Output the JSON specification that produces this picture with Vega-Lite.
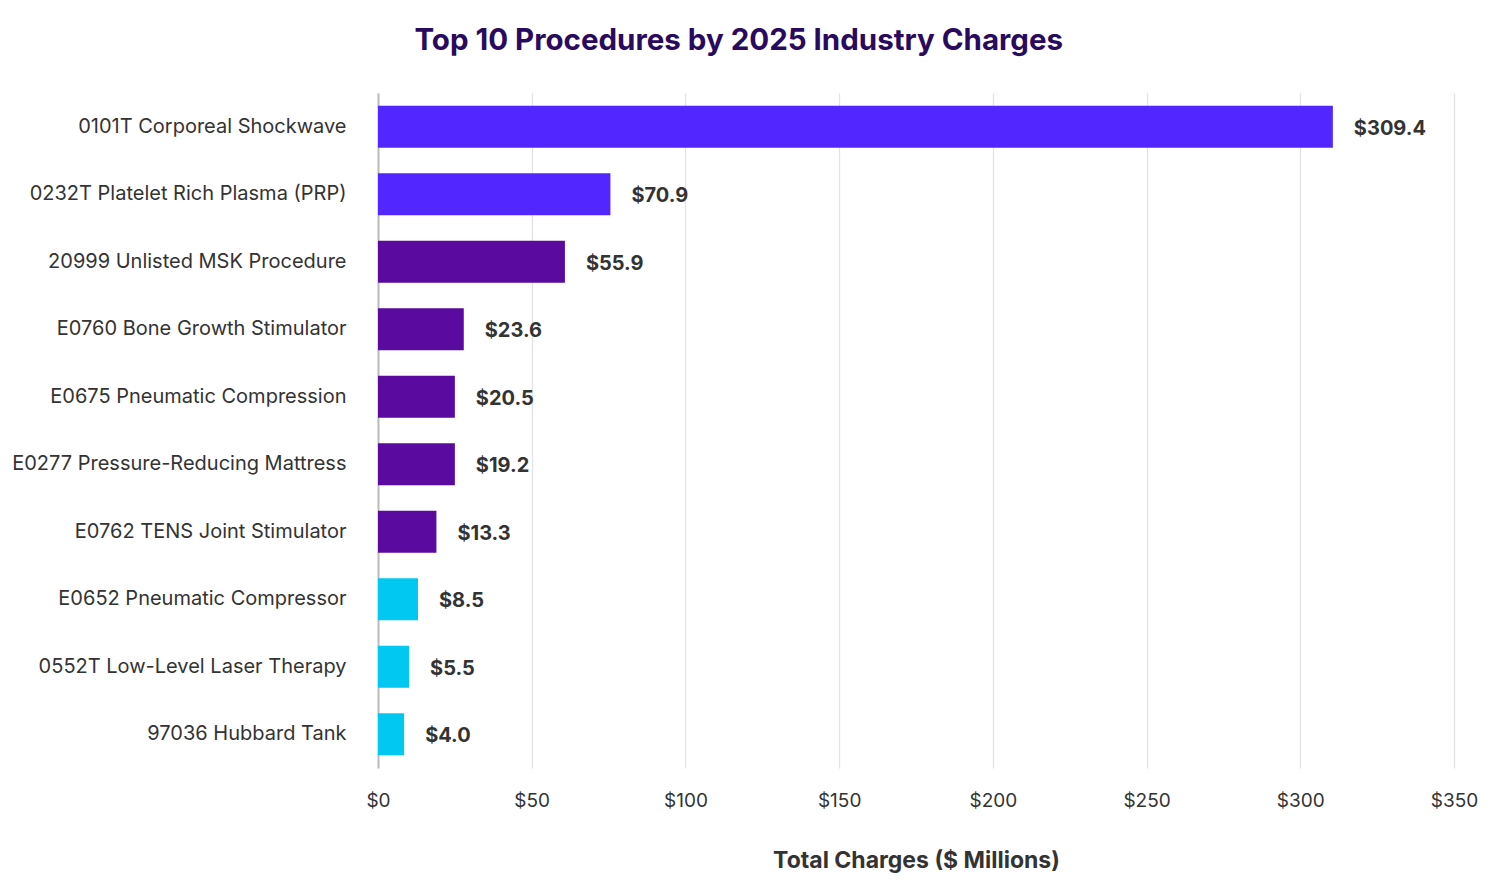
{
  "$schema": "https://vega.github.io/schema/vega-lite/v6.json",
  "description": "Top 10 Procedures by 2025 Industry Charges",
  "autosize": {"type": "none"},
  "padding": {"left": 378, "top": 93, "right": 46, "bottom": 120},
  "width": 1076,
  "height": 675,
  "background": "white",
  "config": {
    "font": "Inter",
    "view": {"stroke": null}
  },
  "title": {
    "text": "Top 10 Procedures by 2025 Industry Charges",
    "font": "Inter",
    "fontSize": 29.5,
    "fontWeight": "bold",
    "color": "#2A0A5E",
    "anchor": "middle",
    "frame": "bounds",
    "offset": 37,
    "dx": -6
  },
  "data": {
    "values": [
      {"procedure": "0101T Corporeal Shockwave", "charges": 309.4, "bar": 310.6, "group": "top"},
      {"procedure": "0232T Platelet Rich Plasma (PRP)", "charges": 70.9, "bar": 75.6, "group": "top"},
      {"procedure": "20999 Unlisted MSK Procedure", "charges": 55.9, "bar": 60.8, "group": "mid"},
      {"procedure": "E0760 Bone Growth Stimulator", "charges": 23.6, "bar": 27.9, "group": "mid"},
      {"procedure": "E0675 Pneumatic Compression", "charges": 20.5, "bar": 25.0, "group": "mid"},
      {"procedure": "E0277 Pressure-Reducing Mattress", "charges": 19.2, "bar": 25.0, "group": "mid"},
      {"procedure": "E0762 TENS Joint Stimulator", "charges": 13.3, "bar": 19.0, "group": "mid"},
      {"procedure": "E0652 Pneumatic Compressor", "charges": 8.5, "bar": 13.0, "group": "low"},
      {"procedure": "0552T Low-Level Laser Therapy", "charges": 5.5, "bar": 10.1, "group": "low"},
      {"procedure": "97036 Hubbard Tank", "charges": 4.0, "bar": 8.5, "group": "low"}
    ]
  },
  "encoding": {
    "y": {
      "field": "procedure",
      "type": "nominal",
      "sort": null,
      "scale": {"paddingInner": 0.38, "paddingOuter": 0.19},
      "axis": {
        "title": null,
        "labelFont": "Inter",
        "labelFontSize": 20,
        "labelColor": "#333333",
        "labelPadding": 32,
        "ticks": false,
        "domain": true,
        "domainColor": "#bbbbbb",
        "domainWidth": 2,
        "grid": false,
        "labelLimit": 400
      }
    },
    "x": {
      "field": "bar",
      "type": "quantitative",
      "scale": {"domain": [0, 350], "nice": false},
      "axis": {
        "title": "Total Charges ($ Millions)",
        "titleFont": "Inter",
        "titleFontSize": 23,
        "titleFontWeight": "bold",
        "titleColor": "#333333",
        "titlePadding": 39,
        "values": [0, 50, 100, 150, 200, 250, 300, 350],
        "labelExpr": "'$' + datum.value",
        "labelFont": "Inter",
        "labelFontSize": 19,
        "labelColor": "#333333",
        "labelPadding": 23,
        "labelFlush": false,
        "labelOverlap": false,
        "ticks": false,
        "domain": false,
        "grid": true,
        "gridColor": "#e2e2e2",
        "gridWidth": 1.2
      }
    }
  },
  "layer": [
    {
      "mark": {"type": "bar"},
      "encoding": {
        "color": {
          "field": "group",
          "type": "nominal",
          "scale": {"domain": ["top", "mid", "low"], "range": ["#5227FF", "#5A0A9E", "#00C8F0"]},
          "legend": null
        }
      }
    },
    {
      "mark": {"type": "text", "align": "left", "baseline": "middle", "dx": 21, "dy": 2, "font": "Inter", "fontSize": 20, "fontWeight": "bold", "color": "#333333"},
      "encoding": {
        "text": {"field": "charges", "type": "quantitative", "format": "$.1f"}
      }
    }
  ]
}
